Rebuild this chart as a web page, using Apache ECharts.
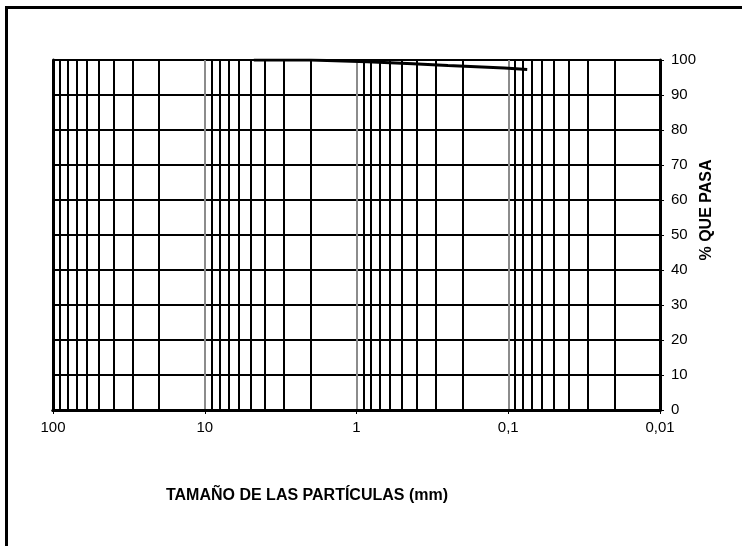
<!DOCTYPE html>
<html>
<head>
<meta charset="utf-8">
<script src="https://cdn.jsdelivr.net/npm/echarts@6/dist/echarts.min.js"></script>
<style>
  html, body { margin: 0; padding: 0; background: #fff; }
  #container { width: 742px; height: 546px; }
</style>
</head>
<body>
<div id="container"></div>
<script>
  // curva granulometrica: tamaño (mm) vs % que pasa
  var sizes = [4.75, 2, 0.85, 0.425, 0.25, 0.106, 0.075];
  var passing = [100, 100, 99.5, 98.9, 98.4, 97.7, 97.3];

  // lineas secundarias de la escala log (2..9 de cada decada)
  var decades = [10, 1, 0.1, 0.01];
  var multipliers = [2, 3, 4, 5, 6, 7, 8, 9];

  var minorLines = [];
  decades.forEach(function (d) {
    multipliers.forEach(function (m) {
      minorLines.push({ xAxis: +(d * m).toPrecision(3) });
    });
  });

  var font = 'Liberation Sans, Arial, sans-serif';
  var dom = document.getElementById('container');
  var myChart = echarts.init(dom);
  var option = {
    animation: false,
    backgroundColor: '#fff',
    grid: { left: 53, right: 82, top: 60, bottom: 136 },
    xAxis: [
      {
        type: 'log',
        logBase: 10,
        inverse: true,
        min: 0.01,
        max: 100,
        interval: 1,
        axisLine: { show: true, onZero: false, lineStyle: { color: '#000', width: 3 } },
        axisTick: { show: true, length: 4, lineStyle: { color: '#000', width: 1 } },
        axisLabel: {
          color: '#000', fontSize: 15, fontFamily: font, margin: 10,
          formatter: function (v) { return String(v).replace('.', ','); }
        },
        splitLine: { show: true, lineStyle: { color: '#8c8c8c', width: 2 } }
      },
      {
        type: 'log',
        logBase: 10,
        inverse: true,
        min: 0.01,
        max: 100,
        position: 'top',
        axisLine: { show: true, lineStyle: { color: '#000', width: 3 } },
        axisTick: { show: false },
        axisLabel: { show: false },
        splitLine: { show: false }
      }
    ],
    yAxis: [
      {
        type: 'value',
        position: 'right',
        min: 0,
        max: 100,
        interval: 10,
        axisLine: { show: true, lineStyle: { color: '#000', width: 3 } },
        axisTick: { show: true, length: 4, lineStyle: { color: '#000', width: 1 } },
        axisLabel: { color: '#000', fontSize: 15, fontFamily: font, margin: 11 },
        splitLine: { show: true, lineStyle: { color: '#000', width: 2 } }
      },
      {
        type: 'value',
        position: 'left',
        min: 0,
        max: 100,
        axisLine: { show: true, lineStyle: { color: '#000', width: 3 } },
        axisTick: { show: false },
        axisLabel: { show: false },
        splitLine: { show: false }
      }
    ],
    series: [
      {
        name: 'grid',
        type: 'line',
        data: [],
        z: 1,
        silent: true,
        markLine: {
          silent: true,
          symbol: 'none',
          label: { show: false },
          lineStyle: { color: '#000', width: 2, type: 'solid' },
          data: minorLines
        }
      },
      {
        name: 'curva',
        type: 'line',
        z: 5,
        symbol: 'none',
        lineStyle: { color: '#000', width: 3 },
        data: sizes.map(function (s, i) { return [s, passing[i]]; })
      }
    ],
    graphic: [
      {
        type: 'rect',
        left: 4, top: 5,
        shape: { width: 800, height: 600 },
        style: { fill: null, stroke: '#000', lineWidth: 3 },
        z: 100
      },
      {
        type: 'text',
        x: 707, y: 210,
        rotation: Math.PI / 2,
        style: {
          text: '% QUE PASA', fill: '#000', fontSize: 16, fontWeight: 'bold',
          fontFamily: font, align: 'center', verticalAlign: 'middle'
        }
      },
      {
        type: 'text',
        x: 307, y: 496,
        style: {
          text: 'TAMAÑO DE LAS PARTÍCULAS (mm)', fill: '#000', fontSize: 16, fontWeight: 'bold',
          fontFamily: font, align: 'center', verticalAlign: 'middle'
        }
      }
    ]
  };
  myChart.setOption(option, true);
</script>
</body>
</html>
